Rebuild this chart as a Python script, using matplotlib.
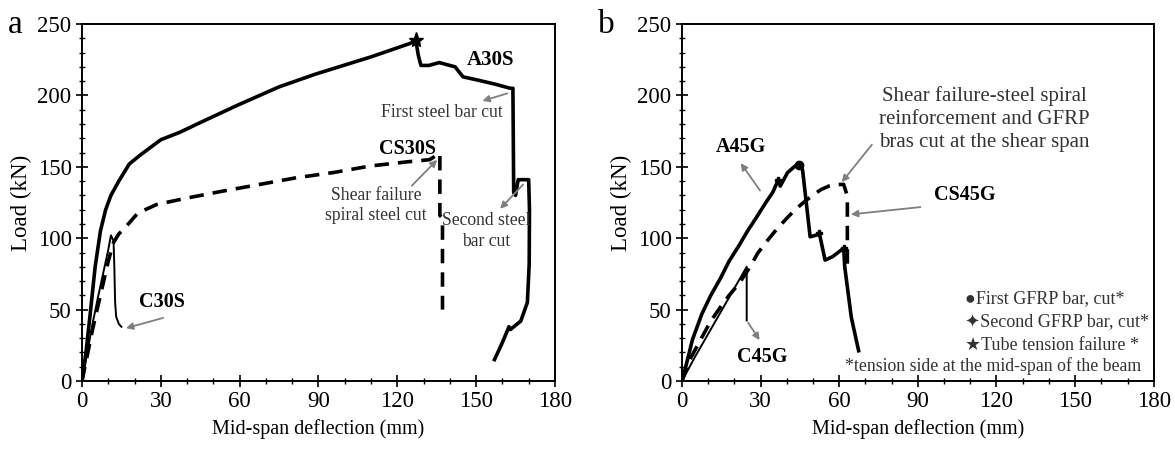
import matplotlib
matplotlib.use("Agg")
import matplotlib.pyplot as plt
from matplotlib.ticker import MultipleLocator

plt.rcParams['font.family'] = ['Liberation Serif', 'DejaVu Sans']

# ---------------- Panel a data ----------------
a30s_x = [0, 1.5, 3, 5, 7, 9, 11, 14, 18, 22, 30, 37, 45, 59, 75, 89, 110, 125, 127,
          128, 129, 132, 136, 140, 142, 145, 150, 157, 163, 164, 164.3, 165, 166, 170,
          170.3, 170.2, 169.5, 167, 163, 162.5, 160, 157]
a30s_y = [0, 20, 45, 80, 105, 120, 130, 140, 152, 158, 169, 174, 181, 193, 206, 215, 227, 236.5, 239,
          228, 221, 221, 223, 221, 220, 213, 211, 208, 205, 205, 132, 130, 141, 141,
          120, 82, 55, 42, 36, 38, 27, 15]
c30s_x = [0, 2, 4, 6, 8, 10, 11, 12, 12.3, 12.6, 13, 14, 15]
c30s_y = [0, 20, 40, 58, 75, 92, 102, 98, 80, 55, 45, 40, 38]
cs30s_x = [0, 2, 4, 6, 8, 10, 12, 14, 15.7, 21.3, 28.4, 39.6, 53.6, 67.7, 81.7, 95.7,
           109.8, 123.8, 132.3, 136.2, 136.2, 137.2, 137.2]
cs30s_y = [0, 18, 36, 52, 68, 84, 97, 103, 106, 117.7, 123.6, 128, 133, 137.7, 142.4, 146,
           150.6, 153.5, 155, 159.6, 116, 114, 50]
star_a = (127, 239)

# ---------------- Panel b data ----------------
a45g_x = [0, 1.85, 4, 7.6, 11, 14.7, 18, 21.8, 25, 28.9, 32, 34.6, 36.8, 37.5, 40.3, 43.2, 44.6,
          46, 48.9, 51.7, 52.4, 54.6, 57.4, 61.7, 62.1, 64.6, 67.4]
a45g_y = [0, 13, 29, 47, 60, 72, 84, 95, 105, 116, 125, 132, 141, 136.5, 146, 150.6, 151.4,
          148, 101, 102.4, 103.6, 84.7, 87, 93, 80, 44.7, 21.2]
cs45g_x = [0, 3, 7.6, 11, 14.7, 18, 21.8, 26, 28.9, 32, 36, 40, 43.2, 47, 50.3, 53, 56, 58.5, 61.7,
           63.1, 63.1]
cs45g_y = [0, 15, 30.6, 42, 51.8, 60, 68.3, 80, 89.5, 97, 106, 114, 120, 126, 130.6, 134, 136.5, 137.5, 137.7,
           129.5, 77.7]
c45g_x = [0, 5, 10, 15, 20, 24.7, 24.7]
c45g_y = [0, 17, 33, 49, 65, 80, 42.4]
circle_b = (44.6, 151.4)
plus_b_x = [36.8, 52.4, 61.7]
plus_b_y = [141, 103.6, 93]

legend_lines = ["\u25CFFirst GFRP bar, cut*", "\u2726Second GFRP bar, cut*", "\u2605Tube tension failure *"]
legend_note = "*tension side at the mid-span of the beam"

xticks = [0, 30, 60, 90, 120, 150, 180]
yticks = [0, 50, 100, 150, 200, 250]

fig = plt.figure(figsize=(11.75, 4.5), dpi=100)
axa = fig.add_axes([0.0698, 0.1533, 0.4025, 0.7933])
axb = fig.add_axes([0.5804, 0.1533, 0.4015, 0.7933])

TFS = 16.5
ANN = dict(fontsize=12.7, color='#333333', ha='center', va='center')
ARW = dict(arrowstyle='-|>', color='#7f7f7f', lw=1.3, mutation_scale=10)

for ax in (axa, axb):
    ax.set_xlim(0, 180)
    ax.set_ylim(0, 250)
    ax.set_xticks(xticks)
    ax.set_yticks(yticks)
    ax.xaxis.set_minor_locator(MultipleLocator(10))
    ax.yaxis.set_minor_locator(MultipleLocator(10))
    ax.tick_params(which='major', direction='inout', length=9, width=1.2, labelsize=TFS, pad=3)
    ax.tick_params(which='minor', direction='inout', length=5, width=1.0)
    for s in ax.spines.values():
        s.set_linewidth(1.4)
    ax.set_xlabel("Mid-span deflection (mm)", fontsize=14.5, labelpad=5)
    ax.set_ylabel("Load (kN)", fontsize=16.5, labelpad=4)

# Panel a
axa.plot(a30s_x, a30s_y, color='black', lw=2.6, solid_joinstyle='round')
axa.plot(c30s_x, c30s_y, color='black', lw=1.4)
axa.plot(cs30s_x, cs30s_y, color='black', lw=2.6, dashes=(4, 2.5))
axa.plot([star_a[0]], [star_a[1]], marker='*', color='black', ms=11)

axa.text(155.5, 224.8, "A30S", fontsize=15, fontweight='bold', ha='center', va='center')
axa.text(137, 188, "First steel bar cut", **ANN)
axa.annotate("", xy=(151.4, 195.6), xytext=(162.9, 202), arrowprops=ARW)
axa.text(124, 162.4, "CS30S", fontsize=14.5, fontweight='bold', ha='center', va='center')
axa.text(112, 123, "Shear failure\nspiral steel cut", linespacing=1.25, **ANN)
axa.annotate("", xy=(135.9, 156.3), xytext=(124.8, 135.4), arrowprops=ARW)
axa.text(154, 105, "Second steel\nbar cut", linespacing=1.25, **ANN)
axa.annotate("", xy=(158.4, 119.2), xytext=(168.6, 139), arrowprops=ARW)
axa.text(30.5, 55.3, "C30S", fontsize=14.5, fontweight='bold', ha='center', va='center')
axa.annotate("", xy=(15.7, 36.5), xytext=(31.9, 44.7), arrowprops=ARW)

# Panel b
axb.plot(a45g_x, a45g_y, color='black', lw=2.6, solid_joinstyle='round')
axb.plot(cs45g_x, cs45g_y, color='black', lw=2.6, dashes=(4, 2.5))
axb.plot(c45g_x, c45g_y, color='black', lw=1.4)
axb.plot([circle_b[0]], [circle_b[1]], marker='o', color='black', ms=6)
axb.plot(plus_b_x, plus_b_y, linestyle='none', marker='P', color='black', ms=5)

axb.text(22.5, 163.6, "A45G", fontsize=14.5, fontweight='bold', ha='center', va='center')
axb.annotate("", xy=(21.8, 154.2), xytext=(30.4, 131.8), arrowprops=ARW)
axb.text(108, 130.6, "CS45G", fontsize=14.5, fontweight='bold', ha='center', va='center')
axb.annotate("", xy=(63.4, 116.5), xytext=(92, 122), arrowprops=ARW)
axb.text(30.5, 16.5, "C45G", fontsize=14.5, fontweight='bold', ha='center', va='center')
axb.annotate("", xy=(30.2, 27), xytext=(24.7, 42.4), arrowprops=ARW)
axb.text(115.5, 183.5, "Shear failure-steel spiral\nreinforcement and GFRP\nbras cut at the shear span",
         linespacing=1.3, fontsize=15, color='#333333', ha='center', va='center')
axb.annotate("", xy=(60.3, 137.7), xytext=(73.1, 167), arrowprops=ARW)

ly = [57.7, 40.6, 25]
for t, y in zip(legend_lines, ly):
    axb.text(108, y, t, fontsize=13, color='#333333', ha='left', va='center')
axb.text(118.7, 10.6, legend_note, fontsize=12.8, color='#333333', ha='center', va='center')

fig.text(0.007, 0.945, "a", fontsize=24, ha='left', va='center')
fig.text(0.509, 0.945, "b", fontsize=24, ha='left', va='center')

fig.savefig("out.png", dpi=100)
